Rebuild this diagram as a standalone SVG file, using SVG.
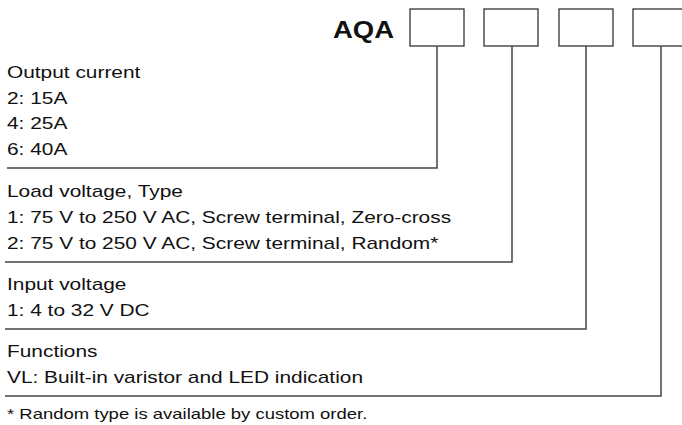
<svg xmlns="http://www.w3.org/2000/svg" width="682" height="425" viewBox="0 0 682 425">
<style>
text{font-family:"Liberation Sans",Arial,Helvetica,sans-serif;font-size:17.4px;fill:#111}
.t{font-weight:bold;font-size:24px}
.n{font-size:15.4px}
.box{fill:#fff;stroke:#333;stroke-width:1.3}
.c{fill:none;stroke:#444;stroke-width:1.5}
</style>
<rect width="682" height="425" fill="#fff"/>
<g id="title" transform="scale(1.145,1)"><text class="t" x="344.1" y="38" text-anchor="end">AQA</text></g>
<g id="box1"><rect class="box" x="410" y="9" width="54" height="37"/></g>
<g id="box2"><rect class="box" x="484" y="9" width="54" height="37"/></g>
<g id="box3"><rect class="box" x="559" y="9" width="54" height="37"/></g>
<g id="box4"><rect class="box" x="633" y="9" width="54" height="37"/></g>
<g id="connectors">
<polyline class="c" points="437,46 437,168 7,168"/>
<polyline class="c" points="512,46 512,262 5,262"/>
<polyline class="c" points="586,46 586,329 5,329"/>
<polyline class="c" points="661,46 661,396 5,396"/>
</g>
<g id="output-current" transform="scale(1.2,1)">
<text x="5.83" y="78">Output current</text>
<text x="5.83" y="104">2: 15A</text>
<text x="5.83" y="129">4: 25A</text>
<text x="5.83" y="155">6: 40A</text>
</g>
<g id="load-voltage" transform="scale(1.2,1)">
<text x="5.83" y="197">Load voltage, Type</text>
<text x="5.83" y="223">1: 75 V to 250 V AC, Screw terminal, Zero-cross</text>
<text x="5.83" y="249">2: 75 V to 250 V AC, Screw terminal, Random*</text>
</g>
<g id="input-voltage" transform="scale(1.2,1)">
<text x="5.83" y="290">Input voltage</text>
<text x="5.83" y="316">1: 4 to 32 V DC</text>
</g>
<g id="functions" transform="scale(1.2,1)">
<text x="5.83" y="357">Functions</text>
<text x="5.83" y="383">VL: Built-in varistor and LED indication</text>
</g>
<g id="note" transform="scale(1.2,1)"><text class="n" x="5.83" y="419">* Random type is available by custom order.</text></g>
</svg>
